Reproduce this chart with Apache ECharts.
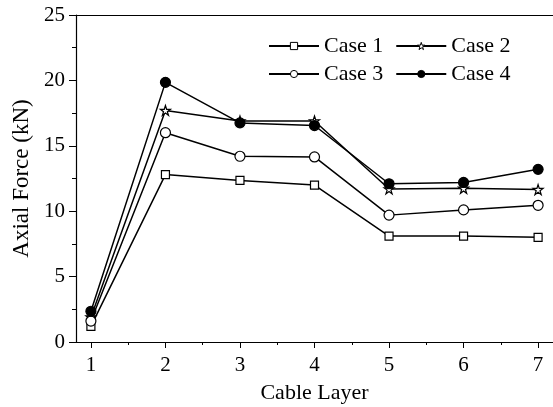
<!DOCTYPE html>
<html>
<head>
    <meta charset="utf-8">
    <title>Axial Force</title>
    <script src="https://cdn.jsdelivr.net/npm/echarts@6/dist/echarts.min.js"></script>
</head>
<body style="margin:0">
    <div id="main" style="width:553px;height:407px;"></div>
    <script type="text/javascript">
        // data
        var layers = [1, 2, 3, 4, 5, 6, 7];
        var halfTicks = [1.5, 2.5, 3.5, 4.5, 5.5, 6.5];
        var case1 = [1.2, 12.8, 12.35, 12.0, 8.1, 8.1, 8.0];
        var case2 = [1.9, 17.7, 16.9, 16.9, 11.7, 11.75, 11.65];
        var case3 = [1.6, 16.0, 14.2, 14.15, 9.7, 10.1, 10.45];
        var case4 = [2.35, 19.85, 16.75, 16.55, 12.1, 12.2, 13.2];

        var starPath = 'path://M50,0 L61.8,36.3 L100,36.3 L69.1,58.8 L80.9,95.1 L50,72.6 L19.1,95.1 L30.9,58.8 L0,36.3 L38.2,36.3 Z';
        var font = 'Liberation Serif';

        function pairs(vals) {
            return layers.map(function (x, i) { return [x, vals[i]]; });
        }

        function makeSeries(name, vals, symbol, size, filled) {
            return {
                name: name,
                type: 'line',
                data: pairs(vals),
                symbol: symbol,
                symbolSize: size,
                showAllSymbol: true,
                lineStyle: { color: '#000', width: 1.5 },
                itemStyle: { color: filled ? '#000' : '#fff', borderColor: '#000', borderWidth: 1.2 },
                emphasis: { disabled: true },
                z: 3
            };
        }

        var legendBase = {
            left: 268,
            padding: 0,
            itemWidth: 50,
            itemHeight: 9,
            itemGap: 12,
            itemStyle: { borderWidth: 1 },
            textStyle: { fontFamily: font, fontSize: 22, color: '#000', padding: [0, 0, 0, 0] },
            selectedMode: false
        };

        var myChart = echarts.init(document.getElementById('main'));
        var option = {
            animation: false,
            backgroundColor: '#fff',
            textStyle: { fontFamily: font },
            legend: [
                Object.assign({ top: 35, data: ['Case 1', 'Case 2'] }, legendBase),
                Object.assign({ top: 63, data: ['Case 3', 'Case 4'] }, legendBase)
            ],
            grid: { left: 76, right: 0, top: 15, bottom: 65, outerBoundsMode: 'none' },
            xAxis: [
                {
                    type: 'value',
                    min: 0.8,
                    max: 7.2,
                    name: 'Cable Layer',
                    nameLocation: 'middle',
                    nameGap: 40,
                    nameTextStyle: { fontFamily: font, fontSize: 22, color: '#000' },
                    axisLine: { lineStyle: { color: '#000', width: 1.2 } },
                    axisTick: { show: true, customValues: layers, length: 6, lineStyle: { color: '#000' } },
                    axisLabel: { customValues: layers, fontFamily: font, fontSize: 21, color: '#000', margin: 13 },
                    splitLine: { show: false }
                },
                {
                    type: 'value',
                    min: 0.8,
                    max: 7.2,
                    position: 'bottom',
                    axisLine: { show: false },
                    axisTick: { show: true, customValues: halfTicks, length: 3, lineStyle: { color: '#000' } },
                    axisLabel: { show: false },
                    splitLine: { show: false }
                },
                {
                    type: 'value',
                    min: 0.8,
                    max: 7.2,
                    position: 'top',
                    axisLine: { lineStyle: { color: '#000', width: 1.2 } },
                    axisTick: { show: false },
                    axisLabel: { show: false },
                    splitLine: { show: false }
                }
            ],
            yAxis: {
                type: 'value',
                min: 0,
                max: 25,
                interval: 5,
                name: 'Axial Force (kN)',
                nameLocation: 'middle',
                nameGap: 40,
                nameTextStyle: { fontFamily: font, fontSize: 23, color: '#000' },
                axisLine: { show: true, lineStyle: { color: '#000', width: 1.2 } },
                axisTick: { show: true, length: 7, lineStyle: { color: '#000' } },
                minorTick: { show: true, splitNumber: 2, length: 4, lineStyle: { color: '#000' } },
                axisLabel: { fontFamily: font, fontSize: 21, color: '#000', margin: 11 },
                splitLine: { show: false }
            },
            series: [
                makeSeries('Case 1', case1, 'rect', 8, false),
                makeSeries('Case 2', case2, starPath, 10, false),
                makeSeries('Case 3', case3, 'circle', 10, false),
                makeSeries('Case 4', case4, 'circle', 10, true)
            ]
        };
        myChart.setOption(option);
    </script>
</body>
</html>
